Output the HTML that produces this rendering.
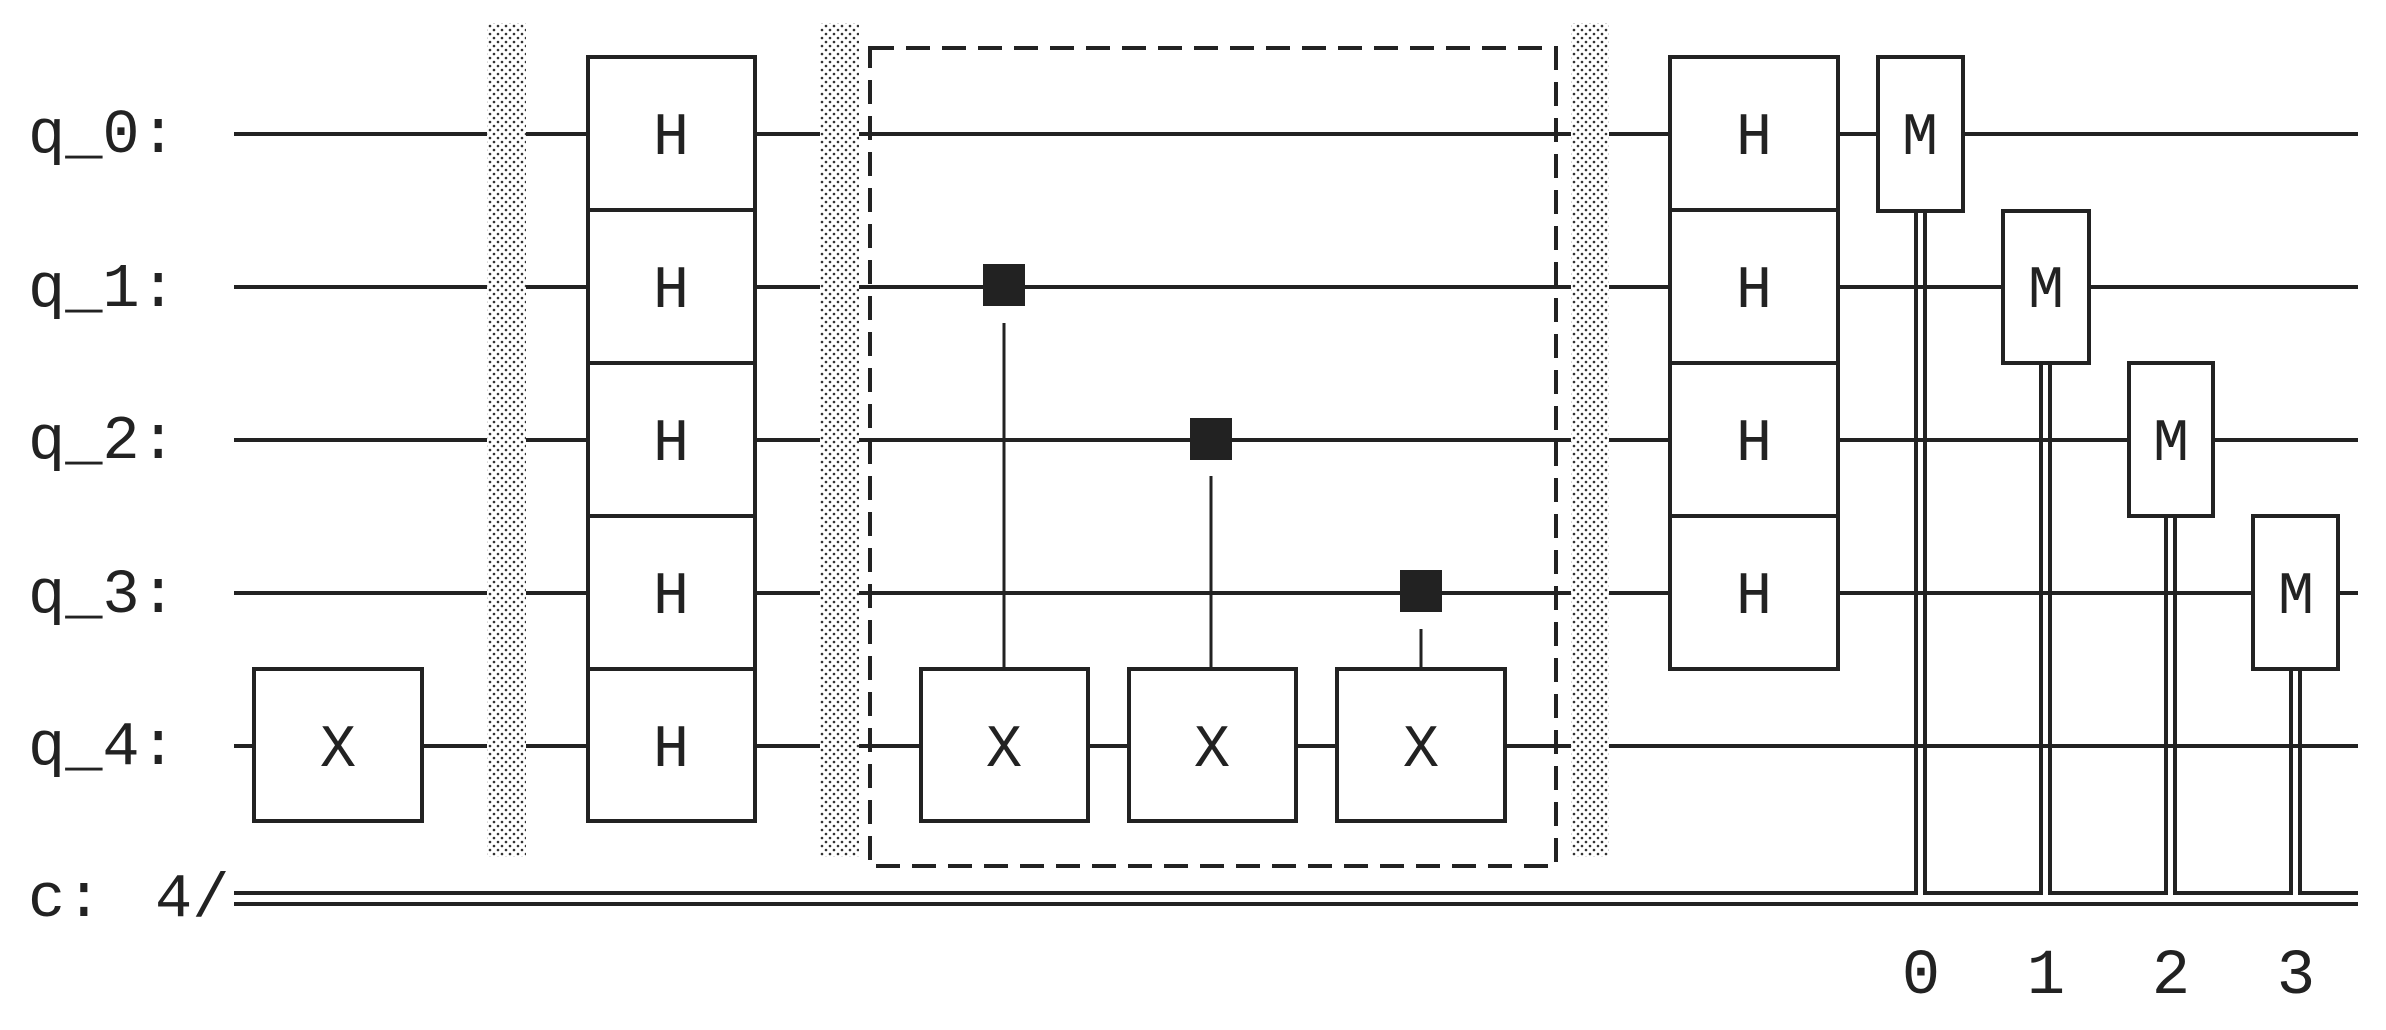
<!DOCTYPE html>
<html><head><meta charset="utf-8"><style>
html,body{margin:0;padding:0;background:#fff;}
svg{display:block;}
text{font-family:"Liberation Mono",monospace;fill:#222;}
</style></head><body>
<svg width="2386" height="1030" viewBox="0 0 2386 1030" xmlns="http://www.w3.org/2000/svg">
<defs>
<pattern id="dots" width="8" height="8" patternUnits="userSpaceOnUse">
<rect width="8" height="8" fill="#fff"/>
<circle cx="2" cy="2" r="1.3" fill="#333"/>
<circle cx="6" cy="6" r="1.3" fill="#333"/>
</pattern>
</defs>
<!-- labels -->
<g font-size="62">
<text x="28" y="152">q_0:</text>
<text x="28" y="306">q_1:</text>
<text x="28" y="458">q_2:</text>
<text x="28" y="612">q_3:</text>
<text x="28" y="764">q_4:</text>
<text x="28" y="916">c:</text>
<text x="155" y="916">4/</text>
</g>
<!-- wires -->
<g stroke="#222" stroke-width="4">
<line x1="234" y1="134" x2="2358" y2="134"/>
<line x1="234" y1="287" x2="2358" y2="287"/>
<line x1="234" y1="440" x2="2358" y2="440"/>
<line x1="234" y1="593" x2="2358" y2="593"/>
<line x1="234" y1="746" x2="2358" y2="746"/>
<line x1="234" y1="904" x2="2358" y2="904"/>
</g>
<!-- c top line with gaps -->
<g stroke="#222" stroke-width="4" fill="none">
<polyline points="234,893 1916,893 1916,211"/>
<polyline points="1925,211 1925,893 2041,893 2041,363"/>
<polyline points="2050,363 2050,893 2166,893 2166,516"/>
<polyline points="2175,516 2175,893 2291,893 2291,669"/>
<polyline points="2300,669 2300,893 2358,893"/>
</g>
<!-- barriers -->
<g fill="url(#dots)">
<rect x="487" y="23" width="39" height="834"/>
<rect x="820" y="23" width="39" height="834"/>
<rect x="1571" y="23" width="38" height="834"/>
</g>
<!-- dashed box -->
<rect x="870" y="48" width="686" height="818" fill="none" stroke="#222" stroke-width="4" stroke-dasharray="24,12"/>
<!-- control lines -->
<g stroke="#222" stroke-width="3">
<line x1="1004" y1="323" x2="1004" y2="669"/>
<line x1="1211" y1="476" x2="1211" y2="669"/>
<line x1="1421" y1="629" x2="1421" y2="669"/>
</g>
<g fill="#222">
<rect x="983" y="264" width="42" height="42"/>
<rect x="1190" y="418" width="42" height="42"/>
<rect x="1400" y="570" width="42" height="42"/>
</g>
<!-- boxes -->
<g fill="#fff" stroke="#222" stroke-width="4">
<rect x="254" y="669" width="168" height="152"/>
<rect x="588" y="57" width="167" height="153"/>
<rect x="588" y="210" width="167" height="153"/>
<rect x="588" y="363" width="167" height="153"/>
<rect x="588" y="516" width="167" height="153"/>
<rect x="588" y="669" width="167" height="152"/>
<rect x="921" y="669" width="167" height="152"/>
<rect x="1129" y="669" width="167" height="152"/>
<rect x="1337" y="669" width="168" height="152"/>
<rect x="1670" y="57" width="168" height="153"/>
<rect x="1670" y="210" width="168" height="153"/>
<rect x="1670" y="363" width="168" height="153"/>
<rect x="1670" y="516" width="168" height="153"/>
<rect x="1878" y="57" width="85" height="154"/>
<rect x="2003" y="211" width="86" height="152"/>
<rect x="2129" y="363" width="84" height="153"/>
<rect x="2253" y="516" width="85" height="153"/>
</g>
<g font-size="60" text-anchor="middle">
<text x="338" y="766">X</text>
<text x="671" y="154">H</text>
<text x="671" y="307">H</text>
<text x="671" y="460">H</text>
<text x="671" y="613">H</text>
<text x="671" y="766">H</text>
<text x="1004" y="766">X</text>
<text x="1212" y="766">X</text>
<text x="1421" y="766">X</text>
<text x="1754" y="154">H</text>
<text x="1754" y="307">H</text>
<text x="1754" y="460">H</text>
<text x="1754" y="613">H</text>
<text x="1920" y="154">M</text>
<text x="2046" y="307">M</text>
<text x="2171" y="460">M</text>
<text x="2296" y="613">M</text>
</g>
<g font-size="64" text-anchor="middle">
<text x="1921" y="993">0</text>
<text x="2046" y="993">1</text>
<text x="2171" y="993">2</text>
<text x="2296" y="993">3</text>
</g>
</svg>
</body></html>
